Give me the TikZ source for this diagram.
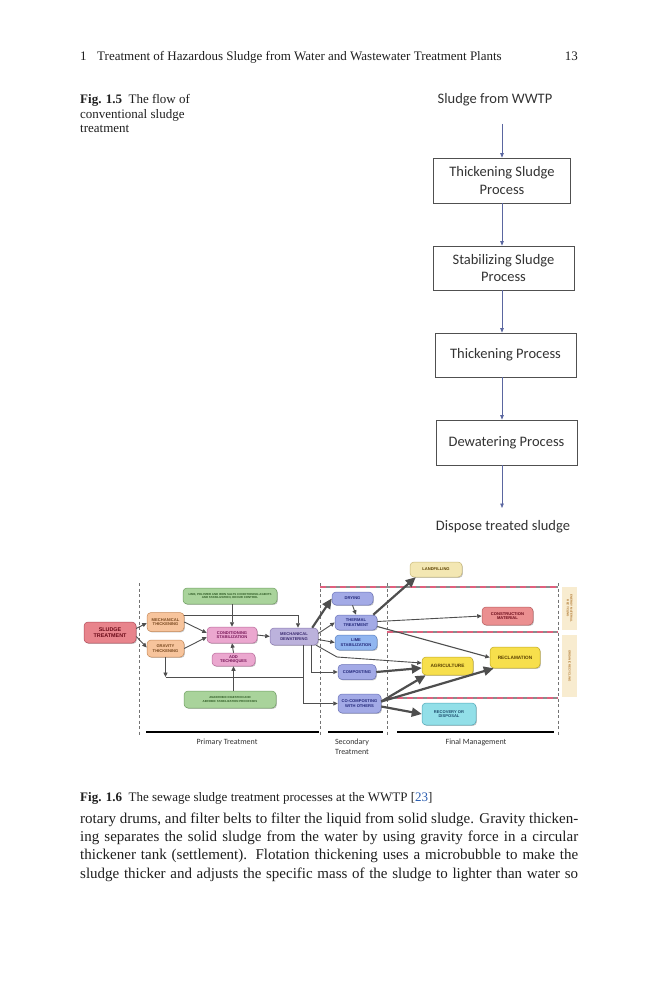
\documentclass[tikz,border=0pt]{standalone}
\usepackage{fontspec}
\setmainfont{Liberation Serif}
\newfontfamily\calibrifont{Carlito}
\newfontfamily\nodefont{Liberation Sans}
\usetikzlibrary{arrows.meta,shadows,calc}
\definecolor{textgray}{HTML}{333333}
\definecolor{boxgray}{HTML}{505050}
\definecolor{arrblue}{HTML}{5A66A0}
\definecolor{arrgray}{HTML}{4E4E4E}
\definecolor{dashred}{HTML}{E0607E}
\definecolor{linkblue}{HTML}{2A5DB0}
\definecolor{redfill}{HTML}{E8848C}\definecolor{reddraw}{HTML}{B04A58}\definecolor{redtext}{HTML}{6A0A18}
\definecolor{orfill}{HTML}{F7C49C}\definecolor{ordraw}{HTML}{C88A58}\definecolor{ortext}{HTML}{7A4A20}
\definecolor{grfill}{HTML}{A9D39B}\definecolor{grdraw}{HTML}{6E9E60}\definecolor{grtext}{HTML}{2E5A24}
\definecolor{pkfill}{HTML}{EBA7CF}\definecolor{pkdraw}{HTML}{B86A9A}\definecolor{pktext}{HTML}{7A1A5A}
\definecolor{lvfill}{HTML}{BCB2DC}\definecolor{lvdraw}{HTML}{8878B0}\definecolor{lvtext}{HTML}{3A2A70}
\definecolor{blfill}{HTML}{A3AAE6}\definecolor{bldraw}{HTML}{6A72B8}\definecolor{bltext}{HTML}{23287A}
\definecolor{ltfill}{HTML}{91B6F0}\definecolor{ltdraw}{HTML}{5A80C0}
\definecolor{ylfill}{HTML}{F7DF4C}\definecolor{yldraw}{HTML}{C0A820}\definecolor{yltext}{HTML}{5A4000}
\definecolor{pyfill}{HTML}{F3E7B3}\definecolor{pydraw}{HTML}{C8B878}
\definecolor{cofill}{HTML}{EB8F90}\definecolor{codraw}{HTML}{B85A5C}
\definecolor{cyfill}{HTML}{92DFE8}\definecolor{cydraw}{HTML}{50A8B8}\definecolor{cytext}{HTML}{1E4E6E}
\definecolor{bgfill}{HTML}{F8ECD0}\definecolor{bgtext}{HTML}{B07830}
\begin{document}
\begin{tikzpicture}[x=1pt,y=-1pt,
  fbox/.style={draw=boxgray, line width=0.8pt, fill=white, inner sep=0pt, align=center,
    font=\calibrifont\fontsize{14.5}{17.5}\selectfont, text=textgray},
  ftext/.style={inner sep=0pt, font=\calibrifont\fontsize{14.5}{17}\selectfont, text=textgray},
  farr/.style={draw=arrblue, line width=0.7pt, -{Triangle[length=4.5pt,width=3.5pt]}},
  serif/.style={inner sep=0pt, text=black!88},
  pn/.style={rounded corners=4pt, inner sep=0pt, align=center, line width=0.5pt,
    font=\nodefont\bfseries\fontsize{4.1}{4.8}\selectfont,
    drop shadow={shadow xshift=0.9pt, shadow yshift=-0.9pt, fill=black!45}},
  narr/.style={draw=arrgray, line width=0.9pt, -{Triangle[length=4.5pt,width=4pt]}},
  tarr/.style={draw=arrgray, line width=2.2pt, -{Triangle[length=10pt,width=9pt]}},
  nline/.style={draw=arrgray, line width=0.9pt},
  vdash/.style={draw=black!55, line width=0.7pt, dash pattern=on 3pt off 2.5pt},
  rdash/.style={draw=dashred, line width=1.4pt, dash pattern=on 6pt off 4pt},
  gdash/.style={draw=black!45, line width=1.4pt, dash pattern=on 4pt off 6pt, dash phase=4pt},
  bar/.style={draw=black, line width=2.4pt},
  phase/.style={inner sep=0pt, align=center, font=\calibrifont\fontsize{8}{10}\selectfont, text=textgray}
]
\useasboundingbox (0,0) rectangle (659,1000);
\fill[white] (0,0) rectangle (659,1000);

% ---------- running head ----------
\node[serif, anchor=base west, font=\fontsize{13}{15}\selectfont] (hnum) at (80,61) {1};
\node[serif, anchor=base west, font=\fontsize{13}{15}\selectfont] (htitle) at (97,61) {Treatment of Hazardous Sludge from Water and Wastewater Treatment Plants};
\node[serif, anchor=base east, font=\fontsize{13}{15}\selectfont] (hpage) at (578,61) {13};

% ---------- Fig 1.5 caption ----------
\node[serif, anchor=base west, font=\fontsize{13}{15}\selectfont] (cap15a) at (80,104) {\textbf{Fig. 1.5}\enspace The flow of};
\node[serif, anchor=base west, font=\fontsize{13}{15}\selectfont] (cap15b) at (80,118.5) {conventional sludge};
\node[serif, anchor=base west, font=\fontsize{13}{15}\selectfont] (cap15c) at (80,133) {treatment};

% ---------- Fig 1.5 flowchart ----------
\node[ftext] (src) at (495,100) {Sludge from WWTP};
\node[fbox, minimum width=137pt, minimum height=45pt] (b1) at (502,180.5) {Thickening Sludge\\Process};
\node[fbox, minimum width=141pt, minimum height=44pt] (b2) at (503.5,268) {Stabilizing Sludge\\Process};
\node[fbox, minimum width=141pt, minimum height=44pt] (b3) at (505.5,355) {Thickening Process};
\node[fbox, minimum width=141pt, minimum height=45pt] (b4) at (506.5,442.5) {Dewatering Process};
\node[ftext] (dst) at (503,527) {Dispose treated sludge};
\coordinate (a0) at (502,124);
\coordinate (a5) at (502,508);
\draw[farr] (a0) -- (b1.north);
\draw[farr] (b1.south) -- (b1.south |- b2.north);
\draw[farr] (b1.south |- b2.south) -- (b1.south |- b3.north);
\draw[farr] (b1.south |- b3.south) -- (b1.south |- b4.north);
\draw[farr] (b1.south |- b4.south) -- (a5);

% ---------- Fig 1.6 ----------
\draw[vdash] (139,583) -- (139,735);
\draw[vdash] (320,583) -- (320,735);
\draw[vdash] (387,583) -- (387,735);
\draw[vdash] (558,583) -- (558,735);
\draw[gdash] (320,587) -- (558,587);
\draw[rdash] (320,587) -- (558,587);
\draw[gdash] (387,632) -- (558,632);
\draw[rdash] (387,632) -- (558,632);
\draw[gdash] (387,698) -- (558,698);
\draw[rdash] (387,698) -- (558,698);

% nodes
\node[pn, fill=redfill, draw=reddraw, text=redtext, minimum width=52pt, minimum height=21pt,
  font=\nodefont\bfseries\fontsize{5.4}{6.3}\selectfont] (sludge) at (110,632.5) {SLUDGE\\TREATMENT};
\node[pn, fill=orfill, draw=ordraw, text=ortext, minimum width=37pt, minimum height=19pt] (mthick) at (165.5,622) {MECHANICAL\\THICKENING};
\node[pn, fill=orfill, draw=ordraw, text=ortext, minimum width=37pt, minimum height=17pt] (gthick) at (165.5,648.5) {GRAVITY\\THICKENING};
\node[pn, fill=grfill, draw=grdraw, text=grtext, minimum width=94pt, minimum height=16pt,
  font=\nodefont\bfseries\fontsize{2.9}{3.5}\selectfont] (green1) at (230,596) {LIME, POLYMER AND IRON SALTS CONDITIONING AGENTS\\AND STABILIZATION, ODOUR CONTROL};
\node[pn, fill=pkfill, draw=pkdraw, text=pktext, minimum width=50pt, minimum height=16pt] (cond) at (232,635) {CONDITIONING\\STABILIZATION};
\node[pn, fill=pkfill, draw=pkdraw, text=pktext, minimum width=43pt, minimum height=13pt] (addt) at (233.5,659.5) {ADD\\TECHNIQUES};
\node[pn, fill=grfill, draw=grdraw, text=grtext, minimum width=92pt, minimum height=17pt,
  font=\nodefont\bfseries\fontsize{2.9}{3.5}\selectfont] (green2) at (230,699.5) {ANAEROBIC DIGESTION AND\\AEROBIC STABILIZATION PROCESSES};
\node[pn, fill=lvfill, draw=lvdraw, text=lvtext, minimum width=48pt, minimum height=17pt] (mdew) at (294,636.5) {MECHANICAL\\DEWATERING};
\node[pn, fill=blfill, draw=bldraw, text=bltext, minimum width=41pt, minimum height=13pt] (drying) at (352.5,598.5) {DRYING};
\node[pn, fill=blfill, draw=bldraw, text=bltext, minimum width=42pt, minimum height=15pt] (thermal) at (356,622.5) {THERMAL\\TREATMENT};
\node[pn, fill=ltfill, draw=ltdraw, text=bltext, minimum width=42pt, minimum height=15pt] (lime) at (356,642.5) {LIME\\STABILIZATION};
\node[pn, fill=blfill, draw=bldraw, text=bltext, minimum width=38pt, minimum height=15pt] (compost) at (357,672) {COMPOSTING};
\node[pn, fill=blfill, draw=bldraw, text=bltext, minimum width=43pt, minimum height=19pt] (cocomp) at (359.5,703.5) {CO-COMPOSTING\\WITH OTHERS};
\node[pn, fill=pyfill, draw=pydraw, text=yltext, minimum width=52pt, minimum height=15pt] (landf) at (436,569.5) {LANDFILLING};
\node[pn, fill=cofill, draw=codraw, text=redtext, minimum width=51pt, minimum height=18pt] (constr) at (507.5,616) {CONSTRUCTION\\MATERIAL};
\node[pn, fill=ylfill, draw=yldraw, text=yltext, minimum width=50pt, minimum height=21pt,
  font=\nodefont\bfseries\fontsize{4.7}{5.5}\selectfont] (reclam) at (515,657.5) {RECLAMATION};
\node[pn, fill=ylfill, draw=yldraw, text=yltext, minimum width=51pt, minimum height=18pt,
  font=\nodefont\bfseries\fontsize{4.7}{5.5}\selectfont] (agri) at (447.5,666) {AGRICULTURE};
\node[pn, fill=cyfill, draw=cydraw, text=cytext, minimum width=54pt, minimum height=22pt] (recov) at (449,714) {RECOVERY OR\\DISPOSAL};
% side labels
\node[fill=bgfill, minimum width=15pt, minimum height=43pt, inner sep=0pt] (lab1) at (569.5,608.5) {};
\node[rotate=-90, inner sep=0pt, align=center, text=bgtext, font=\nodefont\bfseries\fontsize{2.9}{3.5}\selectfont] (lab1t) at (lab1.center) {ENERGY MATERIAL\\RECYCLING};
\node[fill=bgfill, minimum width=15pt, minimum height=62pt, inner sep=0pt] (lab2) at (569.5,666) {};
\node[rotate=-90, inner sep=0pt, align=center, text=bgtext, font=\nodefont\bfseries\fontsize{2.9}{3.5}\selectfont] (lab2t) at (lab2.center) {ORGANIC RECYCLING};

% connectors
\draw[narr] ([yshift=4pt]sludge.east) -- ([yshift=-1pt]mthick.west);
\draw[narr] ([yshift=-4pt]sludge.east) -- ([yshift=1pt]gthick.west);
\draw[narr] (mthick.east) -- ([yshift=2pt]cond.west);
\draw[narr] (gthick.east) -- ([yshift=-2pt]cond.west);
\draw[narr] (green1.south -| cond.north) -- (cond.north);
\draw[narr] (addt.north) -- (cond.south);
\draw[narr] (green2.north -| addt.south) -- (addt.south);
\draw[narr] ([yshift=-3pt]mthick.north east) -| ([xshift=4pt]mdew.north);
\draw[narr] (cond.east) -- (mdew.west);
\coordinate (gturn) at (gthick.south |- 0,677);
\coordinate (gend) at (303,677);
\draw[narr] (gthick.south) -- (gturn);
\draw[nline] (gturn) -- (gend);
\draw[tarr] ([xshift=-6pt]mdew.north east) -- (drying.west);
\draw[narr] ([yshift=3pt]mdew.east) -- (thermal.west);
\draw[narr] ([yshift=-3pt]mdew.east) -- (lime.west);
\coordinate (mbend) at (337,657);
\draw[narr] ([xshift=-2pt]mdew.south east) -- (mbend) -- ([yshift=3pt]agri.west);
\draw[narr] ([xshift=17pt]mdew.south) |- (compost.west);
\draw[narr] ([xshift=9pt]mdew.south) |- (cocomp.west);
\draw[narr] (drying.south) -- (thermal.north);
\draw[tarr] ([xshift=-4pt]thermal.north east) -- ([xshift=6pt]landf.south west);
\draw[narr] ([yshift=1pt]thermal.east) -- (constr.west);
\draw[narr, line width=1.1pt] ([yshift=-4pt]thermal.east) -- (reclam.west);
\draw[tarr] (compost.east) -- ([yshift=-2pt]agri.west);
\draw[tarr] ([yshift=2pt]cocomp.east) -- ([xshift=4pt]agri.south west);
\draw[tarr] ([yshift=2pt]cocomp.east) -- ([xshift=4pt]reclam.south west);
\draw[tarr] ([yshift=-3pt]cocomp.east) -- (recov.west);

% phase bars and labels
\coordinate (p1a) at (146,732); \coordinate (p1b) at (319,732);
\coordinate (p2a) at (328,732); \coordinate (p2b) at (383,732);
\coordinate (p3a) at (397,732); \coordinate (p3b) at (554,732);
\draw[bar] (p1a) -- (p1b);
\draw[bar] (p2a) -- (p2b);
\draw[bar] (p3a) -- (p3b);
\node[phase] (ph1) at (227,742) {Primary Treatment};
\node[phase] (ph2) at (352,747) {Secondary\\Treatment};
\node[phase] (ph3) at (476,742) {Final Management};

% ---------- Fig 1.6 caption ----------
\node[serif, anchor=base west, font=\fontsize{13}{15}\selectfont] (cap16) at (80,801) {\textbf{Fig. 1.6}\enspace The sewage sludge treatment processes at the WWTP [\textcolor{linkblue}{23}]};

% ---------- body text ----------
\node[serif, anchor=base west] (body) at (80,823) {\parbox[t]{498pt}{\fontsize{15}{18.4}\selectfont\parfillskip=0pt\noindent
rotary drums, and filter belts to filter the liquid from solid sludge. Gravity thicken-\linebreak
ing separates the solid sludge from the water by using gravity force in a circular\linebreak
thickener tank (settlement). Flotation thickening uses a microbubble to make the\linebreak
sludge thicker and adjusts the specific mass of the sludge to lighter than water so}};
\end{tikzpicture}
\end{document}
